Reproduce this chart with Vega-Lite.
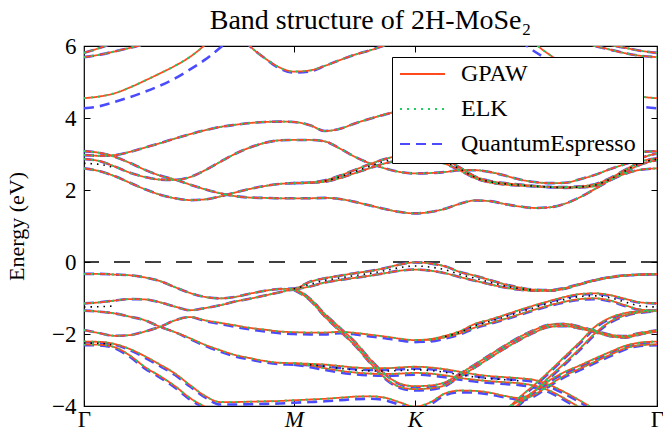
{
"$schema":"https://vega.github.io/schema/vega-lite/v6.json",
"width":573,"height":360,
"autosize":{"type":"none"},
"padding":{"left":84,"top":46,"right":6,"bottom":28},
"config":{"view":{"stroke":"black","strokeWidth":1.2},"font":"Liberation Serif"},
"title":{"text":"Band structure of 2H-MoSe₂","font":"Liberation Serif","fontSize":28,"fontWeight":"normal","color":"black","offset":0,"frame":"group","anchor":"middle"},
"data":{"values":[
{"b":"T1","k":0,"g":5.81,"e":5.81,"q":5.81},{"b":"T1","k":0.066,"g":5.95,"e":5.95,"q":5.95},{"b":"T1","k":0.128,"g":6.1,"e":6.1,"q":6.1},
{"b":"T2","k":0,"g":5.69,"e":5.69,"q":5.69},{"b":"T2","k":0.066,"g":5.76,"e":5.76,"q":5.76},{"b":"T2","k":0.128,"g":5.85,"e":5.85,"q":5.85},{"b":"T2","k":0.19,"g":5.95,"e":5.95,"q":5.95},{"b":"T2","k":0.252,"g":6.05,"e":6.05,"q":6.05},{"b":"T2","k":0.314,"g":6.18,"e":6.18,"q":6.18},
{"b":"T3","k":2.131,"g":6.1,"e":6.1,"q":6.1},{"b":"T3","k":2.172,"g":6.03,"e":6.03,"q":6.03},{"b":"T3","k":2.234,"g":5.95,"e":5.95,"q":5.95},{"b":"T3","k":2.296,"g":5.87,"e":5.87,"q":5.87},{"b":"T3","k":2.366,"g":5.81,"e":5.81,"q":5.81},
{"b":"T4","k":2.048,"g":6.1,"e":6.1,"q":6.1},{"b":"T4","k":2.11,"g":6.0,"e":6.0,"q":6.0},{"b":"T4","k":2.172,"g":5.9,"e":5.9,"q":5.9},{"b":"T4","k":2.234,"g":5.8,"e":5.8,"q":5.8},{"b":"T4","k":2.296,"g":5.73,"e":5.73,"q":5.73},{"b":"T4","k":2.366,"g":5.69,"e":5.69,"q":5.69},
{"b":"C45","k":0,"g":4.55,"e":4.55,"q":4.27},{"b":"C45","k":0.066,"g":4.6,"e":4.6,"q":4.33},{"b":"C45","k":0.128,"g":4.69,"e":4.69,"q":4.45},{"b":"C45","k":0.19,"g":4.85,"e":4.85,"q":4.58},{"b":"C45","k":0.252,"g":5.04,"e":5.04,"q":4.73},{"b":"C45","k":0.314,"g":5.24,"e":5.24,"q":4.9},{"b":"C45","k":0.376,"g":5.45,"e":5.45,"q":5.1},{"b":"C45","k":0.438,"g":5.7,"e":5.7,"q":5.35},{"b":"C45","k":0.5,"g":6.03,"e":6.03,"q":5.62},{"b":"C45","k":0.562,"g":6.4,"e":6.4,"q":5.95},{"b":"C45","k":0.623,"g":6.8,"e":6.8,"q":6.3},
{"b":"C45R","k":1.8,"g":6.6,"e":6.6,"q":6.15},{"b":"C45R","k":1.862,"g":6.08,"e":6.08,"q":5.84},{"b":"C45R","k":1.924,"g":5.75,"e":5.75,"q":5.58},{"b":"C45R","k":1.986,"g":5.5,"e":5.5,"q":5.3},{"b":"C45R","k":2.048,"g":5.27,"e":5.27,"q":5.05},{"b":"C45R","k":2.11,"g":5.06,"e":5.06,"q":4.82},{"b":"C45R","k":2.172,"g":4.86,"e":4.86,"q":4.6},{"b":"C45R","k":2.234,"g":4.7,"e":4.7,"q":4.45},{"b":"C45R","k":2.296,"g":4.6,"e":4.6,"q":4.33},{"b":"C45R","k":2.366,"g":4.55,"e":4.55,"q":4.27},
{"b":"CM","k":0.623,"g":6.5,"e":6.5,"q":6.5},{"b":"CM","k":0.685,"g":6.0,"e":6.0,"q":6.0},{"b":"CM","k":0.747,"g":5.66,"e":5.66,"q":5.66},{"b":"CM","k":0.809,"g":5.4,"e":5.4,"q":5.37},{"b":"CM","k":0.866,"g":5.29,"e":5.29,"q":5.26},{"b":"CM","k":0.933,"g":5.32,"e":5.32,"q":5.29},{"b":"CM","k":0.995,"g":5.45,"e":5.45,"q":5.45},{"b":"CM","k":1.057,"g":5.61,"e":5.61,"q":5.61},{"b":"CM","k":1.119,"g":5.76,"e":5.76,"q":5.76},{"b":"CM","k":1.181,"g":5.88,"e":5.88,"q":5.88},{"b":"CM","k":1.243,"g":6.02,"e":6.02,"q":6.02},{"b":"CM","k":1.305,"g":6.15,"e":6.15,"q":6.15},
{"b":"C39","k":0,"g":2.97,"e":2.97,"q":2.97},{"b":"C39","k":0.066,"g":2.95,"e":2.95,"q":2.95},{"b":"C39","k":0.128,"g":2.97,"e":2.97,"q":2.97},{"b":"C39","k":0.19,"g":3.06,"e":3.06,"q":3.06},{"b":"C39","k":0.252,"g":3.18,"e":3.18,"q":3.18},{"b":"C39","k":0.314,"g":3.3,"e":3.3,"q":3.3},{"b":"C39","k":0.376,"g":3.43,"e":3.43,"q":3.43},{"b":"C39","k":0.438,"g":3.55,"e":3.55,"q":3.55},{"b":"C39","k":0.5,"g":3.66,"e":3.66,"q":3.66},{"b":"C39","k":0.562,"g":3.75,"e":3.75,"q":3.75},{"b":"C39","k":0.623,"g":3.81,"e":3.81,"q":3.81},{"b":"C39","k":0.685,"g":3.86,"e":3.86,"q":3.86},{"b":"C39","k":0.747,"g":3.89,"e":3.89,"q":3.89},{"b":"C39","k":0.809,"g":3.9,"e":3.9,"q":3.9},{"b":"C39","k":0.866,"g":3.89,"e":3.89,"q":3.89},{"b":"C39","k":0.933,"g":3.8,"e":3.8,"q":3.8},{"b":"C39","k":0.995,"g":3.64,"e":3.64,"q":3.64},{"b":"C39","k":1.057,"g":3.7,"e":3.7,"q":3.7},{"b":"C39","k":1.119,"g":3.85,"e":3.85,"q":3.85},{"b":"C39","k":1.181,"g":3.98,"e":3.98,"q":3.98},{"b":"C39","k":1.243,"g":4.1,"e":4.1,"q":4.1},{"b":"C39","k":1.305,"g":4.2,"e":4.2,"q":4.2},{"b":"C39","k":1.366,"g":4.28,"e":4.28,"q":4.28},{"b":"C39","k":1.429,"g":4.3,"e":4.3,"q":4.3},{"b":"C39","k":1.491,"g":4.26,"e":4.26,"q":4.26},{"b":"C39","k":1.553,"g":4.15,"e":4.15,"q":4.15},{"b":"C39","k":1.614,"g":4.02,"e":4.02,"q":4.02},{"b":"C39","k":1.676,"g":3.88,"e":3.88,"q":3.88},{"b":"C39","k":1.738,"g":3.72,"e":3.72,"q":3.72},{"b":"C39","k":1.8,"g":3.57,"e":3.57,"q":3.57},{"b":"C39","k":1.862,"g":3.43,"e":3.43,"q":3.43},{"b":"C39","k":1.924,"g":3.3,"e":3.3,"q":3.3},{"b":"C39","k":1.986,"g":3.2,"e":3.2,"q":3.2},{"b":"C39","k":2.048,"g":3.13,"e":3.13,"q":3.13},{"b":"C39","k":2.11,"g":3.08,"e":3.08,"q":3.08},{"b":"C39","k":2.172,"g":3.05,"e":3.05,"q":3.05},{"b":"C39","k":2.234,"g":3.05,"e":3.05,"q":3.05},{"b":"C39","k":2.296,"g":3.06,"e":3.06,"q":3.06},{"b":"C39","k":2.366,"g":3.08,"e":3.08,"q":3.08},
{"b":"Cb1","k":0,"g":3.08,"e":3.08,"q":3.08},{"b":"Cb1","k":0.066,"g":3.03,"e":3.03,"q":3.03},{"b":"Cb1","k":0.128,"g":2.92,"e":2.92,"q":2.92},{"b":"Cb1","k":0.19,"g":2.75,"e":2.75,"q":2.75},{"b":"Cb1","k":0.252,"g":2.56,"e":2.56,"q":2.56},{"b":"Cb1","k":0.314,"g":2.4,"e":2.4,"q":2.4},{"b":"Cb1","k":0.376,"g":2.29,"e":2.29,"q":2.29},{"b":"Cb1","k":0.438,"g":2.15,"e":2.15,"q":2.15},{"b":"Cb1","k":0.5,"g":2.02,"e":2.02,"q":2.02},{"b":"Cb1","k":0.562,"g":1.91,"e":1.91,"q":1.91},{"b":"Cb1","k":0.623,"g":1.83,"e":1.83,"q":1.83},{"b":"Cb1","k":0.685,"g":1.79,"e":1.79,"q":1.79},{"b":"Cb1","k":0.747,"g":1.78,"e":1.78,"q":1.78},{"b":"Cb1","k":0.809,"g":1.77,"e":1.77,"q":1.77},{"b":"Cb1","k":0.866,"g":1.77,"e":1.77,"q":1.77},{"b":"Cb1","k":0.933,"g":1.77,"e":1.77,"q":1.77},{"b":"Cb1","k":0.995,"g":1.78,"e":1.78,"q":1.78},{"b":"Cb1","k":1.057,"g":1.75,"e":1.75,"q":1.75},{"b":"Cb1","k":1.119,"g":1.67,"e":1.67,"q":1.67},{"b":"Cb1","k":1.181,"g":1.57,"e":1.57,"q":1.57},{"b":"Cb1","k":1.243,"g":1.47,"e":1.47,"q":1.47},{"b":"Cb1","k":1.305,"g":1.39,"e":1.39,"q":1.39},{"b":"Cb1","k":1.366,"g":1.35,"e":1.35,"q":1.35},{"b":"Cb1","k":1.429,"g":1.39,"e":1.39,"q":1.39},{"b":"Cb1","k":1.491,"g":1.48,"e":1.48,"q":1.48},{"b":"Cb1","k":1.553,"g":1.62,"e":1.62,"q":1.62},{"b":"Cb1","k":1.614,"g":1.71,"e":1.71,"q":1.71},{"b":"Cb1","k":1.676,"g":1.69,"e":1.69,"q":1.69},{"b":"Cb1","k":1.738,"g":1.61,"e":1.61,"q":1.61},{"b":"Cb1","k":1.8,"g":1.54,"e":1.54,"q":1.54},{"b":"Cb1","k":1.862,"g":1.5,"e":1.5,"q":1.5},{"b":"Cb1","k":1.924,"g":1.52,"e":1.52,"q":1.52},{"b":"Cb1","k":1.986,"g":1.62,"e":1.62,"q":1.62},{"b":"Cb1","k":2.048,"g":1.8,"e":1.8,"q":1.8},{"b":"Cb1","k":2.11,"g":2.03,"e":2.03,"q":2.03},{"b":"Cb1","k":2.172,"g":2.27,"e":2.27,"q":2.27},{"b":"Cb1","k":2.234,"g":2.45,"e":2.45,"q":2.45},{"b":"Cb1","k":2.296,"g":2.56,"e":2.56,"q":2.56},{"b":"Cb1","k":2.366,"g":2.6,"e":2.6,"q":2.6},
{"b":"Cb3","k":0,"g":2.6,"e":2.6,"q":2.6},{"b":"Cb3","k":0.066,"g":2.52,"e":2.52,"q":2.52},{"b":"Cb3","k":0.128,"g":2.38,"e":2.38,"q":2.38},{"b":"Cb3","k":0.19,"g":2.2,"e":2.2,"q":2.2},{"b":"Cb3","k":0.252,"g":2.02,"e":2.02,"q":2.02},{"b":"Cb3","k":0.314,"g":1.87,"e":1.87,"q":1.87},{"b":"Cb3","k":0.376,"g":1.77,"e":1.77,"q":1.77},{"b":"Cb3","k":0.438,"g":1.72,"e":1.72,"q":1.72},{"b":"Cb3","k":0.5,"g":1.74,"e":1.74,"q":1.74},{"b":"Cb3","k":0.562,"g":1.82,"e":1.82,"q":1.82},{"b":"Cb3","k":0.623,"g":1.93,"e":1.93,"q":1.93},{"b":"Cb3","k":0.685,"g":2.03,"e":2.03,"q":2.03},{"b":"Cb3","k":0.747,"g":2.11,"e":2.11,"q":2.11},{"b":"Cb3","k":0.809,"g":2.17,"e":2.17,"q":2.17},{"b":"Cb3","k":0.866,"g":2.19,"e":2.19,"q":2.19},{"b":"Cb3","k":0.933,"g":2.21,"e":2.21,"q":2.21},{"b":"Cb3","k":0.995,"g":2.27,"e":2.27,"q":2.27},{"b":"Cb3","k":1.057,"g":2.4,"e":2.4,"q":2.4},{"b":"Cb3","k":1.119,"g":2.56,"e":2.56,"q":2.56},{"b":"Cb3","k":1.181,"g":2.72,"e":2.72,"q":2.72},{"b":"Cb3","k":1.243,"g":2.86,"e":2.86,"q":2.86},{"b":"Cb3","k":1.305,"g":2.96,"e":2.96,"q":2.96},{"b":"Cb3","k":1.366,"g":3.01,"e":3.01,"q":3.01},{"b":"Cb3","k":1.429,"g":2.97,"e":2.97,"q":2.97},{"b":"Cb3","k":1.491,"g":2.84,"e":2.84,"q":2.84},{"b":"Cb3","k":1.553,"g":2.62,"e":2.62,"q":2.62},{"b":"Cb3","k":1.614,"g":2.38,"e":2.38,"q":2.38},{"b":"Cb3","k":1.676,"g":2.25,"e":2.25,"q":2.25},{"b":"Cb3","k":1.738,"g":2.19,"e":2.19,"q":2.19},{"b":"Cb3","k":1.8,"g":2.15,"e":2.15,"q":2.15},{"b":"Cb3","k":1.862,"g":2.11,"e":2.11,"q":2.11},{"b":"Cb3","k":1.924,"g":2.08,"e":2.08,"q":2.08},{"b":"Cb3","k":1.986,"g":2.06,"e":2.06,"q":2.06},{"b":"Cb3","k":2.048,"g":2.07,"e":2.07,"q":2.07},{"b":"Cb3","k":2.11,"g":2.11,"e":2.11,"q":2.11},{"b":"Cb3","k":2.172,"g":2.27,"e":2.27,"q":2.27},{"b":"Cb3","k":2.234,"g":2.5,"e":2.5,"q":2.5},{"b":"Cb3","k":2.296,"g":2.7,"e":2.7,"q":2.7},{"b":"Cb3","k":2.366,"g":2.83,"e":2.83,"q":2.83},
{"b":"Cb3b","k":0.866,"g":2.19,"e":2.19,"q":2.19},{"b":"Cb3b","k":0.933,"g":2.2,"e":2.2,"q":2.2},{"b":"Cb3b","k":0.995,"g":2.23,"e":2.23,"q":2.23},{"b":"Cb3b","k":1.057,"g":2.33,"e":2.33,"q":2.33},{"b":"Cb3b","k":1.119,"g":2.47,"e":2.47,"q":2.47},{"b":"Cb3b","k":1.181,"g":2.61,"e":2.61,"q":2.61},{"b":"Cb3b","k":1.243,"g":2.74,"e":2.74,"q":2.74},{"b":"Cb3b","k":1.305,"g":2.83,"e":2.83,"q":2.83},{"b":"Cb3b","k":1.366,"g":2.87,"e":2.87,"q":2.87},{"b":"Cb3b","k":1.429,"g":2.84,"e":2.84,"q":2.84},{"b":"Cb3b","k":1.491,"g":2.73,"e":2.73,"q":2.73},{"b":"Cb3b","k":1.553,"g":2.54,"e":2.54,"q":2.54},{"b":"Cb3b","k":1.614,"g":2.33,"e":2.33,"q":2.33},{"b":"Cb3b","k":1.676,"g":2.21,"e":2.21,"q":2.21},{"b":"Cb3b","k":1.738,"g":2.15,"e":2.15,"q":2.15},{"b":"Cb3b","k":1.8,"g":2.12,"e":2.12,"q":2.12},{"b":"Cb3b","k":1.862,"g":2.1,"e":2.1,"q":2.1},{"b":"Cb3b","k":1.924,"g":2.08,"e":2.08,"q":2.08},{"b":"Cb3b","k":1.986,"g":2.08,"e":2.08,"q":2.08},{"b":"Cb3b","k":2.048,"g":2.1,"e":2.1,"q":2.1},{"b":"Cb3b","k":2.11,"g":2.16,"e":2.16,"q":2.16},{"b":"Cb3b","k":2.172,"g":2.33,"e":2.33,"q":2.33},{"b":"Cb3b","k":2.234,"g":2.56,"e":2.56,"q":2.56},{"b":"Cb3b","k":2.296,"g":2.78,"e":2.78,"q":2.78},{"b":"Cb3b","k":2.366,"g":2.88,"e":2.88,"q":2.88},
{"b":"Cb2","k":0,"g":2.86,"e":2.86,"q":2.86},{"b":"Cb2","k":0.066,"g":2.8,"e":2.8,"q":2.8},{"b":"Cb2","k":0.128,"g":2.65,"e":2.65,"q":2.65},{"b":"Cb2","k":0.19,"g":2.48,"e":2.48,"q":2.48},{"b":"Cb2","k":0.252,"g":2.36,"e":2.36,"q":2.36},{"b":"Cb2","k":0.314,"g":2.29,"e":2.29,"q":2.29},{"b":"Cb2","k":0.376,"g":2.28,"e":2.28,"q":2.28},{"b":"Cb2","k":0.438,"g":2.36,"e":2.36,"q":2.36},{"b":"Cb2","k":0.5,"g":2.55,"e":2.55,"q":2.55},{"b":"Cb2","k":0.562,"g":2.78,"e":2.78,"q":2.78},{"b":"Cb2","k":0.623,"g":3.0,"e":3.0,"q":3.0},{"b":"Cb2","k":0.685,"g":3.18,"e":3.18,"q":3.18},{"b":"Cb2","k":0.747,"g":3.31,"e":3.31,"q":3.31},{"b":"Cb2","k":0.809,"g":3.38,"e":3.38,"q":3.38},{"b":"Cb2","k":0.866,"g":3.39,"e":3.39,"q":3.39},{"b":"Cb2","k":0.933,"g":3.39,"e":3.39,"q":3.39},{"b":"Cb2","k":0.995,"g":3.35,"e":3.35,"q":3.35},{"b":"Cb2","k":1.057,"g":3.15,"e":3.15,"q":3.15},{"b":"Cb2","k":1.119,"g":2.92,"e":2.92,"q":2.92},{"b":"Cb2","k":1.181,"g":2.74,"e":2.74,"q":2.74},{"b":"Cb2","k":1.243,"g":2.6,"e":2.6,"q":2.6},{"b":"Cb2","k":1.305,"g":2.5,"e":2.5,"q":2.5},{"b":"Cb2","k":1.366,"g":2.46,"e":2.46,"q":2.46},{"b":"Cb2","k":1.429,"g":2.47,"e":2.47,"q":2.47},{"b":"Cb2","k":1.491,"g":2.5,"e":2.5,"q":2.5},{"b":"Cb2","k":1.553,"g":2.55,"e":2.55,"q":2.55},{"b":"Cb2","k":1.614,"g":2.55,"e":2.55,"q":2.55},{"b":"Cb2","k":1.676,"g":2.5,"e":2.5,"q":2.5},{"b":"Cb2","k":1.738,"g":2.4,"e":2.4,"q":2.4},{"b":"Cb2","k":1.8,"g":2.29,"e":2.29,"q":2.29},{"b":"Cb2","k":1.862,"g":2.22,"e":2.22,"q":2.22},{"b":"Cb2","k":1.924,"g":2.19,"e":2.19,"q":2.19},{"b":"Cb2","k":1.986,"g":2.2,"e":2.2,"q":2.2},{"b":"Cb2","k":2.048,"g":2.3,"e":2.3,"q":2.3},{"b":"Cb2","k":2.11,"g":2.42,"e":2.42,"q":2.42},{"b":"Cb2","k":2.172,"g":2.58,"e":2.58,"q":2.58},{"b":"Cb2","k":2.234,"g":2.72,"e":2.72,"q":2.72},{"b":"Cb2","k":2.296,"g":2.88,"e":2.88,"q":2.88},{"b":"Cb2","k":2.366,"g":3.02,"e":3.02,"q":3.02},
{"b":"V1","k":0,"g":-0.33,"e":-0.33,"q":-0.33},{"b":"V1","k":0.066,"g":-0.33,"e":-0.33,"q":-0.33},{"b":"V1","k":0.128,"g":-0.35,"e":-0.35,"q":-0.35},{"b":"V1","k":0.19,"g":-0.37,"e":-0.37,"q":-0.37},{"b":"V1","k":0.252,"g":-0.43,"e":-0.43,"q":-0.43},{"b":"V1","k":0.314,"g":-0.53,"e":-0.53,"q":-0.53},{"b":"V1","k":0.376,"g":-0.7,"e":-0.7,"q":-0.7},{"b":"V1","k":0.438,"g":-0.86,"e":-0.86,"q":-0.86},{"b":"V1","k":0.5,"g":-0.97,"e":-0.97,"q":-0.97},{"b":"V1","k":0.562,"g":-1.01,"e":-1.01,"q":-1.01},{"b":"V1","k":0.623,"g":-0.97,"e":-0.97,"q":-0.97},{"b":"V1","k":0.685,"g":-0.88,"e":-0.88,"q":-0.88},{"b":"V1","k":0.747,"g":-0.8,"e":-0.8,"q":-0.8},{"b":"V1","k":0.809,"g":-0.75,"e":-0.75,"q":-0.75},{"b":"V1","k":0.866,"g":-0.74,"e":-0.74,"q":-0.74},{"b":"V1","k":0.933,"g":-0.55,"e":-0.55,"q":-0.55},{"b":"V1","k":0.995,"g":-0.45,"e":-0.45,"q":-0.45},{"b":"V1","k":1.057,"g":-0.38,"e":-0.38,"q":-0.38},{"b":"V1","k":1.119,"g":-0.31,"e":-0.31,"q":-0.31},{"b":"V1","k":1.181,"g":-0.25,"e":-0.25,"q":-0.25},{"b":"V1","k":1.243,"g":-0.17,"e":-0.17,"q":-0.17},{"b":"V1","k":1.305,"g":-0.07,"e":-0.07,"q":-0.07},{"b":"V1","k":1.366,"g":-0.01,"e":-0.01,"q":-0.01},{"b":"V1","k":1.429,"g":-0.04,"e":-0.04,"q":-0.04},{"b":"V1","k":1.491,"g":-0.12,"e":-0.12,"q":-0.12},{"b":"V1","k":1.553,"g":-0.28,"e":-0.28,"q":-0.28},{"b":"V1","k":1.614,"g":-0.38,"e":-0.38,"q":-0.38},{"b":"V1","k":1.676,"g":-0.5,"e":-0.5,"q":-0.5},{"b":"V1","k":1.738,"g":-0.62,"e":-0.62,"q":-0.62},{"b":"V1","k":1.8,"g":-0.71,"e":-0.71,"q":-0.71},{"b":"V1","k":1.862,"g":-0.77,"e":-0.77,"q":-0.77},{"b":"V1","k":1.924,"g":-0.78,"e":-0.78,"q":-0.78},{"b":"V1","k":1.986,"g":-0.72,"e":-0.72,"q":-0.72},{"b":"V1","k":2.048,"g":-0.61,"e":-0.61,"q":-0.61},{"b":"V1","k":2.11,"g":-0.5,"e":-0.5,"q":-0.5},{"b":"V1","k":2.172,"g":-0.42,"e":-0.42,"q":-0.42},{"b":"V1","k":2.234,"g":-0.37,"e":-0.37,"q":-0.37},{"b":"V1","k":2.296,"g":-0.35,"e":-0.35,"q":-0.35},{"b":"V1","k":2.366,"g":-0.34,"e":-0.34,"q":-0.34},
{"b":"V1b","k":0.866,"g":-0.76,"e":-0.76,"q":-0.76},{"b":"V1b","k":0.933,"g":-0.68,"e":-0.68,"q":-0.68},{"b":"V1b","k":0.995,"g":-0.57,"e":-0.57,"q":-0.57},{"b":"V1b","k":1.057,"g":-0.5,"e":-0.5,"q":-0.5},{"b":"V1b","k":1.119,"g":-0.44,"e":-0.44,"q":-0.44},{"b":"V1b","k":1.181,"g":-0.38,"e":-0.38,"q":-0.38},{"b":"V1b","k":1.243,"g":-0.31,"e":-0.31,"q":-0.31},{"b":"V1b","k":1.305,"g":-0.24,"e":-0.24,"q":-0.24},{"b":"V1b","k":1.366,"g":-0.21,"e":-0.21,"q":-0.21},{"b":"V1b","k":1.429,"g":-0.24,"e":-0.24,"q":-0.24},{"b":"V1b","k":1.491,"g":-0.31,"e":-0.31,"q":-0.31},{"b":"V1b","k":1.553,"g":-0.42,"e":-0.42,"q":-0.42},{"b":"V1b","k":1.614,"g":-0.52,"e":-0.52,"q":-0.52},{"b":"V1b","k":1.676,"g":-0.62,"e":-0.62,"q":-0.62},{"b":"V1b","k":1.738,"g":-0.71,"e":-0.71,"q":-0.71},{"b":"V1b","k":1.8,"g":-0.77,"e":-0.77,"q":-0.77},{"b":"V1b","k":1.862,"g":-0.8,"e":-0.8,"q":-0.8},{"b":"V1b","k":1.924,"g":-0.8,"e":-0.8,"q":-0.8},{"b":"V1b","k":1.986,"g":-0.74,"e":-0.74,"q":-0.74},{"b":"V1b","k":2.048,"g":-0.62,"e":-0.62,"q":-0.62},{"b":"V1b","k":2.11,"g":-0.51,"e":-0.51,"q":-0.51},{"b":"V1b","k":2.172,"g":-0.43,"e":-0.43,"q":-0.43},{"b":"V1b","k":2.234,"g":-0.38,"e":-0.38,"q":-0.38},{"b":"V1b","k":2.296,"g":-0.35,"e":-0.35,"q":-0.35},{"b":"V1b","k":2.366,"g":-0.34,"e":-0.34,"q":-0.34},
{"b":"V2","k":0,"g":-1.15,"e":-1.15,"q":-1.15},{"b":"V2","k":0.066,"g":-1.12,"e":-1.12,"q":-1.12},{"b":"V2","k":0.128,"g":-1.07,"e":-1.07,"q":-1.07},{"b":"V2","k":0.19,"g":-1.03,"e":-1.03,"q":-1.03},{"b":"V2","k":0.252,"g":-1.04,"e":-1.04,"q":-1.04},{"b":"V2","k":0.314,"g":-1.12,"e":-1.12,"q":-1.12},{"b":"V2","k":0.376,"g":-1.24,"e":-1.24,"q":-1.24},{"b":"V2","k":0.438,"g":-1.34,"e":-1.34,"q":-1.34},{"b":"V2","k":0.5,"g":-1.28,"e":-1.28,"q":-1.28},{"b":"V2","k":0.562,"g":-1.2,"e":-1.2,"q":-1.2},{"b":"V2","k":0.623,"g":-1.1,"e":-1.1,"q":-1.1},{"b":"V2","k":0.685,"g":-1.02,"e":-1.02,"q":-1.02},{"b":"V2","k":0.747,"g":-0.93,"e":-0.93,"q":-0.93},{"b":"V2","k":0.809,"g":-0.84,"e":-0.84,"q":-0.84},{"b":"V2","k":0.866,"g":-0.77,"e":-0.77,"q":-0.77},{"b":"V2","k":0.933,"g":-1.02,"e":-1.02,"q":-1.02},{"b":"V2","k":0.995,"g":-1.45,"e":-1.45,"q":-1.45},{"b":"V2","k":1.057,"g":-1.83,"e":-1.83,"q":-1.83},{"b":"V2","k":1.119,"g":-2.22,"e":-2.22,"q":-2.22},{"b":"V2","k":1.181,"g":-2.7,"e":-2.7,"q":-2.7},{"b":"V2","k":1.243,"g":-3.12,"e":-3.12,"q":-3.12},{"b":"V2","k":1.305,"g":-3.38,"e":-3.38,"q":-3.4},{"b":"V2","k":1.366,"g":-3.45,"e":-3.45,"q":-3.48},{"b":"V2","k":1.429,"g":-3.43,"e":-3.43,"q":-3.46},{"b":"V2","k":1.491,"g":-3.34,"e":-3.34,"q":-3.36},{"b":"V2","k":1.553,"g":-3.1,"e":-3.1,"q":-3.1},{"b":"V2","k":1.614,"g":-2.85,"e":-2.85,"q":-2.85},{"b":"V2","k":1.676,"g":-2.58,"e":-2.58,"q":-2.58},{"b":"V2","k":1.738,"g":-2.32,"e":-2.32,"q":-2.32},{"b":"V2","k":1.8,"g":-2.08,"e":-2.08,"q":-2.08},{"b":"V2","k":1.862,"g":-1.88,"e":-1.88,"q":-1.88},{"b":"V2","k":1.924,"g":-1.74,"e":-1.74,"q":-1.74},{"b":"V2","k":1.986,"g":-1.72,"e":-1.72,"q":-1.72},{"b":"V2","k":2.048,"g":-1.8,"e":-1.8,"q":-1.8},{"b":"V2","k":2.11,"g":-1.91,"e":-1.91,"q":-1.91},{"b":"V2","k":2.172,"g":-2.02,"e":-2.02,"q":-2.02},{"b":"V2","k":2.234,"g":-2.06,"e":-2.06,"q":-2.06},{"b":"V2","k":2.296,"g":-1.97,"e":-1.97,"q":-1.97},{"b":"V2","k":2.366,"g":-1.9,"e":-1.9,"q":-1.9},
{"b":"V2b","k":0.866,"g":-0.77,"e":-0.77,"q":-0.77},{"b":"V2b","k":0.933,"g":-1.06,"e":-1.06,"q":-1.06},{"b":"V2b","k":0.995,"g":-1.52,"e":-1.52,"q":-1.52},{"b":"V2b","k":1.057,"g":-1.92,"e":-1.92,"q":-1.92},{"b":"V2b","k":1.119,"g":-2.32,"e":-2.32,"q":-2.32},{"b":"V2b","k":1.181,"g":-2.8,"e":-2.8,"q":-2.8},{"b":"V2b","k":1.243,"g":-3.22,"e":-3.22,"q":-3.24},{"b":"V2b","k":1.305,"g":-3.47,"e":-3.47,"q":-3.5},{"b":"V2b","k":1.366,"g":-3.53,"e":-3.53,"q":-3.57},{"b":"V2b","k":1.429,"g":-3.51,"e":-3.51,"q":-3.55},{"b":"V2b","k":1.491,"g":-3.42,"e":-3.42,"q":-3.45},{"b":"V2b","k":1.553,"g":-3.18,"e":-3.18,"q":-3.18},{"b":"V2b","k":1.614,"g":-2.93,"e":-2.93,"q":-2.93},{"b":"V2b","k":1.676,"g":-2.66,"e":-2.66,"q":-2.66},{"b":"V2b","k":1.738,"g":-2.4,"e":-2.4,"q":-2.4},{"b":"V2b","k":1.8,"g":-2.16,"e":-2.16,"q":-2.16},{"b":"V2b","k":1.862,"g":-1.95,"e":-1.95,"q":-1.95},{"b":"V2b","k":1.924,"g":-1.8,"e":-1.8,"q":-1.8},{"b":"V2b","k":1.986,"g":-1.78,"e":-1.78,"q":-1.78},{"b":"V2b","k":2.048,"g":-1.85,"e":-1.85,"q":-1.85},{"b":"V2b","k":2.11,"g":-1.95,"e":-1.95,"q":-1.95},{"b":"V2b","k":2.172,"g":-2.06,"e":-2.06,"q":-2.06},{"b":"V2b","k":2.234,"g":-2.1,"e":-2.1,"q":-2.1},{"b":"V2b","k":2.296,"g":-2.01,"e":-2.01,"q":-2.01},{"b":"V2b","k":2.366,"g":-1.93,"e":-1.93,"q":-1.93},
{"b":"V3","k":0,"g":-1.35,"e":-1.35,"q":-1.35},{"b":"V3","k":0.066,"g":-1.38,"e":-1.38,"q":-1.38},{"b":"V3","k":0.128,"g":-1.43,"e":-1.43,"q":-1.43},{"b":"V3","k":0.19,"g":-1.52,"e":-1.52,"q":-1.52},{"b":"V3","k":0.252,"g":-1.62,"e":-1.62,"q":-1.62},{"b":"V3","k":0.314,"g":-1.8,"e":-1.8,"q":-1.8},{"b":"V3","k":0.376,"g":-1.95,"e":-1.95,"q":-1.95},{"b":"V3","k":0.438,"g":-2.12,"e":-2.12,"q":-2.14},{"b":"V3","k":0.5,"g":-2.3,"e":-2.3,"q":-2.33},{"b":"V3","k":0.562,"g":-2.45,"e":-2.45,"q":-2.49},{"b":"V3","k":0.623,"g":-2.58,"e":-2.58,"q":-2.62},{"b":"V3","k":0.685,"g":-2.67,"e":-2.67,"q":-2.71},{"b":"V3","k":0.747,"g":-2.75,"e":-2.75,"q":-2.79},{"b":"V3","k":0.809,"g":-2.8,"e":-2.8,"q":-2.84},{"b":"V3","k":0.866,"g":-2.81,"e":-2.81,"q":-2.85},{"b":"V3","k":0.933,"g":-2.83,"e":-2.83,"q":-2.87},{"b":"V3","k":0.995,"g":-2.85,"e":-2.85,"q":-2.9},{"b":"V3","k":1.057,"g":-2.89,"e":-2.89,"q":-2.94},{"b":"V3","k":1.119,"g":-2.93,"e":-2.93,"q":-2.98},{"b":"V3","k":1.181,"g":-2.95,"e":-2.95,"q":-3.0},{"b":"V3","k":1.243,"g":-2.95,"e":-2.95,"q":-3.0},{"b":"V3","k":1.305,"g":-2.93,"e":-2.93,"q":-2.98},{"b":"V3","k":1.366,"g":-2.91,"e":-2.91,"q":-2.96},{"b":"V3","k":1.429,"g":-2.93,"e":-2.93,"q":-2.98},{"b":"V3","k":1.491,"g":-2.98,"e":-2.98,"q":-3.03},{"b":"V3","k":1.553,"g":-3.05,"e":-3.05,"q":-3.1},{"b":"V3","k":1.614,"g":-3.12,"e":-3.12,"q":-3.17},{"b":"V3","k":1.676,"g":-3.17,"e":-3.17,"q":-3.22},{"b":"V3","k":1.738,"g":-3.2,"e":-3.2,"q":-3.25},{"b":"V3","k":1.8,"g":-3.23,"e":-3.23,"q":-3.28},{"b":"V3","k":1.862,"g":-3.28,"e":-3.28,"q":-3.33},{"b":"V3","k":1.924,"g":-3.42,"e":-3.42,"q":-3.47},{"b":"V3","k":1.986,"g":-3.62,"e":-3.62,"q":-3.67},{"b":"V3","k":2.048,"g":-3.85,"e":-3.85,"q":-3.9},{"b":"V3","k":2.11,"g":-4.1,"e":-4.1,"q":-4.15},
{"b":"V3b","k":0.866,"g":-2.81,"e":-2.81,"q":-2.85},{"b":"V3b","k":0.933,"g":-2.87,"e":-2.87,"q":-2.92},{"b":"V3b","k":0.995,"g":-2.95,"e":-2.95,"q":-3.0},{"b":"V3b","k":1.057,"g":-3.02,"e":-3.02,"q":-3.07},{"b":"V3b","k":1.119,"g":-3.07,"e":-3.07,"q":-3.12},{"b":"V3b","k":1.181,"g":-3.1,"e":-3.1,"q":-3.15},{"b":"V3b","k":1.243,"g":-3.11,"e":-3.11,"q":-3.16},{"b":"V3b","k":1.305,"g":-3.1,"e":-3.1,"q":-3.15},{"b":"V3b","k":1.366,"g":-3.08,"e":-3.08,"q":-3.13},{"b":"V3b","k":1.429,"g":-3.1,"e":-3.1,"q":-3.15},{"b":"V3b","k":1.491,"g":-3.15,"e":-3.15,"q":-3.2},{"b":"V3b","k":1.553,"g":-3.22,"e":-3.22,"q":-3.27},{"b":"V3b","k":1.614,"g":-3.27,"e":-3.27,"q":-3.32},{"b":"V3b","k":1.676,"g":-3.31,"e":-3.31,"q":-3.36},{"b":"V3b","k":1.738,"g":-3.34,"e":-3.34,"q":-3.39},{"b":"V3b","k":1.8,"g":-3.37,"e":-3.37,"q":-3.42},{"b":"V3b","k":1.862,"g":-3.44,"e":-3.44,"q":-3.49},{"b":"V3b","k":1.924,"g":-3.58,"e":-3.58,"q":-3.63},{"b":"V3b","k":1.986,"g":-3.8,"e":-3.8,"q":-3.85},{"b":"V3b","k":2.048,"g":-4.05,"e":-4.05,"q":-4.1},
{"b":"V4","k":0,"g":-1.89,"e":-1.89,"q":-1.89},{"b":"V4","k":0.066,"g":-1.98,"e":-1.98,"q":-1.98},{"b":"V4","k":0.128,"g":-2.05,"e":-2.05,"q":-2.05},{"b":"V4","k":0.19,"g":-2.03,"e":-2.03,"q":-2.03},{"b":"V4","k":0.252,"g":-1.93,"e":-1.93,"q":-1.93},{"b":"V4","k":0.314,"g":-1.8,"e":-1.8,"q":-1.8},{"b":"V4","k":0.376,"g":-1.62,"e":-1.62,"q":-1.62},{"b":"V4","k":0.438,"g":-1.53,"e":-1.53,"q":-1.53},{"b":"V4","k":0.5,"g":-1.62,"e":-1.62,"q":-1.64},{"b":"V4","k":0.562,"g":-1.69,"e":-1.69,"q":-1.72},{"b":"V4","k":0.623,"g":-1.76,"e":-1.76,"q":-1.8},{"b":"V4","k":0.685,"g":-1.83,"e":-1.83,"q":-1.87},{"b":"V4","k":0.747,"g":-1.88,"e":-1.88,"q":-1.93},{"b":"V4","k":0.809,"g":-1.93,"e":-1.93,"q":-1.98},{"b":"V4","k":0.866,"g":-1.95,"e":-1.95,"q":-2.0},{"b":"V4","k":0.933,"g":-1.96,"e":-1.96,"q":-2.01},{"b":"V4","k":0.995,"g":-1.96,"e":-1.96,"q":-2.01},{"b":"V4","k":1.057,"g":-1.94,"e":-1.94,"q":-1.98},{"b":"V4","k":1.119,"g":-1.97,"e":-1.97,"q":-2.01},{"b":"V4","k":1.181,"g":-2.02,"e":-2.02,"q":-2.07},{"b":"V4","k":1.243,"g":-2.07,"e":-2.07,"q":-2.12},{"b":"V4","k":1.305,"g":-2.13,"e":-2.13,"q":-2.18},{"b":"V4","k":1.366,"g":-2.17,"e":-2.17,"q":-2.22},{"b":"V4","k":1.429,"g":-2.14,"e":-2.14,"q":-2.19},{"b":"V4","k":1.491,"g":-2.05,"e":-2.05,"q":-2.09},{"b":"V4","k":1.553,"g":-1.92,"e":-1.92,"q":-1.95},{"b":"V4","k":1.614,"g":-1.72,"e":-1.72,"q":-1.74},{"b":"V4","k":1.676,"g":-1.6,"e":-1.6,"q":-1.62},{"b":"V4","k":1.738,"g":-1.47,"e":-1.47,"q":-1.49},{"b":"V4","k":1.8,"g":-1.33,"e":-1.33,"q":-1.35},{"b":"V4","k":1.862,"g":-1.2,"e":-1.2,"q":-1.22},{"b":"V4","k":1.924,"g":-1.08,"e":-1.08,"q":-1.1},{"b":"V4","k":1.986,"g":-0.97,"e":-0.97,"q":-0.99},{"b":"V4","k":2.048,"g":-0.89,"e":-0.89,"q":-0.91},{"b":"V4","k":2.11,"g":-0.87,"e":-0.87,"q":-0.89},{"b":"V4","k":2.172,"g":-0.92,"e":-0.92,"q":-0.94},{"b":"V4","k":2.234,"g":-1.02,"e":-1.02,"q":-1.04},{"b":"V4","k":2.296,"g":-1.12,"e":-1.12,"q":-1.13},{"b":"V4","k":2.366,"g":-1.15,"e":-1.15,"q":-1.15},
{"b":"V4b","k":1.366,"g":-2.17,"e":-2.17,"q":-2.22},{"b":"V4b","k":1.429,"g":-2.16,"e":-2.16,"q":-2.21},{"b":"V4b","k":1.491,"g":-2.09,"e":-2.09,"q":-2.13},{"b":"V4b","k":1.553,"g":-1.98,"e":-1.98,"q":-2.01},{"b":"V4b","k":1.614,"g":-1.82,"e":-1.82,"q":-1.84},{"b":"V4b","k":1.676,"g":-1.7,"e":-1.7,"q":-1.72},{"b":"V4b","k":1.738,"g":-1.58,"e":-1.58,"q":-1.6},{"b":"V4b","k":1.8,"g":-1.45,"e":-1.45,"q":-1.47},{"b":"V4b","k":1.862,"g":-1.32,"e":-1.32,"q":-1.34},{"b":"V4b","k":1.924,"g":-1.2,"e":-1.2,"q":-1.22},{"b":"V4b","k":1.986,"g":-1.1,"e":-1.1,"q":-1.12},{"b":"V4b","k":2.048,"g":-1.03,"e":-1.03,"q":-1.05},{"b":"V4b","k":2.11,"g":-1.01,"e":-1.01,"q":-1.03},{"b":"V4b","k":2.172,"g":-1.07,"e":-1.07,"q":-1.09},{"b":"V4b","k":2.234,"g":-1.2,"e":-1.2,"q":-1.22},{"b":"V4b","k":2.296,"g":-1.32,"e":-1.32,"q":-1.33},{"b":"V4b","k":2.366,"g":-1.35,"e":-1.35,"q":-1.35},
{"b":"V5a","k":0,"g":-2.21,"e":-2.21,"q":-2.23},{"b":"V5a","k":0.066,"g":-2.22,"e":-2.22,"q":-2.24},{"b":"V5a","k":0.128,"g":-2.28,"e":-2.28,"q":-2.3},{"b":"V5a","k":0.19,"g":-2.42,"e":-2.42,"q":-2.45},{"b":"V5a","k":0.252,"g":-2.62,"e":-2.62,"q":-2.66},{"b":"V5a","k":0.314,"g":-2.85,"e":-2.85,"q":-2.89},{"b":"V5a","k":0.376,"g":-3.1,"e":-3.1,"q":-3.14},{"b":"V5a","k":0.438,"g":-3.42,"e":-3.42,"q":-3.46},{"b":"V5a","k":0.5,"g":-3.72,"e":-3.72,"q":-3.76},{"b":"V5a","k":0.562,"g":-3.89,"e":-3.89,"q":-3.96},{"b":"V5a","k":0.623,"g":-3.89,"e":-3.89,"q":-3.96},{"b":"V5a","k":0.685,"g":-3.88,"e":-3.88,"q":-3.95},{"b":"V5a","k":0.747,"g":-3.87,"e":-3.87,"q":-3.94},{"b":"V5a","k":0.809,"g":-3.86,"e":-3.86,"q":-3.93},{"b":"V5a","k":0.866,"g":-3.84,"e":-3.84,"q":-3.91},{"b":"V5a","k":0.933,"g":-3.82,"e":-3.82,"q":-3.89},{"b":"V5a","k":0.995,"g":-3.8,"e":-3.8,"q":-3.87},{"b":"V5a","k":1.057,"g":-3.77,"e":-3.77,"q":-3.84},{"b":"V5a","k":1.119,"g":-3.74,"e":-3.74,"q":-3.81},{"b":"V5a","k":1.181,"g":-3.73,"e":-3.73,"q":-3.8},{"b":"V5a","k":1.243,"g":-3.77,"e":-3.77,"q":-3.84},{"b":"V5a","k":1.305,"g":-3.9,"e":-3.9,"q":-3.97},{"b":"V5a","k":1.366,"g":-4.02,"e":-4.02,"q":-4.08},{"b":"V5a","k":1.429,"g":-3.9,"e":-3.9,"q":-3.96},{"b":"V5a","k":1.491,"g":-3.65,"e":-3.65,"q":-3.7},{"b":"V5a","k":1.553,"g":-3.57,"e":-3.57,"q":-3.62},{"b":"V5a","k":1.614,"g":-3.58,"e":-3.58,"q":-3.63},{"b":"V5a","k":1.676,"g":-3.63,"e":-3.63,"q":-3.68},{"b":"V5a","k":1.738,"g":-3.72,"e":-3.72,"q":-3.76},{"b":"V5a","k":1.8,"g":-3.78,"e":-3.78,"q":-3.82},{"b":"V5a","k":1.862,"g":-3.58,"e":-3.58,"q":-3.62},{"b":"V5a","k":1.924,"g":-3.28,"e":-3.28,"q":-3.32},{"b":"V5a","k":1.986,"g":-3.05,"e":-3.05,"q":-3.09},{"b":"V5a","k":2.048,"g":-2.87,"e":-2.87,"q":-2.91},{"b":"V5a","k":2.11,"g":-2.68,"e":-2.68,"q":-2.72},{"b":"V5a","k":2.172,"g":-2.5,"e":-2.5,"q":-2.54},{"b":"V5a","k":2.234,"g":-2.33,"e":-2.33,"q":-2.36},{"b":"V5a","k":2.296,"g":-2.24,"e":-2.24,"q":-2.26},{"b":"V5a","k":2.366,"g":-2.21,"e":-2.21,"q":-2.23},
{"b":"V5b","k":0,"g":-2.29,"e":-2.29,"q":-2.31},{"b":"V5b","k":0.066,"g":-2.3,"e":-2.3,"q":-2.32},{"b":"V5b","k":0.128,"g":-2.37,"e":-2.37,"q":-2.4},{"b":"V5b","k":0.19,"g":-2.6,"e":-2.6,"q":-2.64},{"b":"V5b","k":0.252,"g":-2.92,"e":-2.92,"q":-2.96},{"b":"V5b","k":0.314,"g":-3.17,"e":-3.17,"q":-3.21},{"b":"V5b","k":0.376,"g":-3.45,"e":-3.45,"q":-3.49},{"b":"V5b","k":0.438,"g":-3.78,"e":-3.78,"q":-3.82},{"b":"V5b","k":0.5,"g":-4.02,"e":-4.02,"q":-4.06},{"b":"V5b","k":0.562,"g":-4.2,"e":-4.2,"q":-4.24},
{"b":"VC2","k":1.738,"g":-4.1,"e":-4.1,"q":-4.14},{"b":"VC2","k":1.8,"g":-3.85,"e":-3.85,"q":-3.89},{"b":"VC2","k":1.862,"g":-3.68,"e":-3.68,"q":-3.72},{"b":"VC2","k":1.924,"g":-3.4,"e":-3.4,"q":-3.44},{"b":"VC2","k":1.986,"g":-3.15,"e":-3.15,"q":-3.19},{"b":"VC2","k":2.048,"g":-2.96,"e":-2.96,"q":-3.0},{"b":"VC2","k":2.11,"g":-2.77,"e":-2.77,"q":-2.81},{"b":"VC2","k":2.172,"g":-2.58,"e":-2.58,"q":-2.62},{"b":"VC2","k":2.234,"g":-2.4,"e":-2.4,"q":-2.43},{"b":"VC2","k":2.296,"g":-2.31,"e":-2.31,"q":-2.33},{"b":"VC2","k":2.366,"g":-2.29,"e":-2.29,"q":-2.31},
{"b":"VB","k":1.738,"g":-4.15,"e":-4.15,"q":-4.19},{"b":"VB","k":1.8,"g":-3.75,"e":-3.75,"q":-3.79},{"b":"VB","k":1.862,"g":-3.4,"e":-3.4,"q":-3.44},{"b":"VB","k":1.924,"g":-3.02,"e":-3.02,"q":-3.06},{"b":"VB","k":1.986,"g":-2.62,"e":-2.62,"q":-2.66},{"b":"VB","k":2.048,"g":-2.22,"e":-2.22,"q":-2.26},{"b":"VB","k":2.11,"g":-1.8,"e":-1.8,"q":-1.84},{"b":"VB","k":2.172,"g":-1.55,"e":-1.55,"q":-1.58},{"b":"VB","k":2.234,"g":-1.42,"e":-1.42,"q":-1.44},{"b":"VB","k":2.296,"g":-1.37,"e":-1.37,"q":-1.38},{"b":"VB","k":2.366,"g":-1.35,"e":-1.35,"q":-1.36},
{"b":"VBb","k":1.738,"g":-4.35,"e":-4.35,"q":-4.39},{"b":"VBb","k":1.8,"g":-3.92,"e":-3.92,"q":-3.96},{"b":"VBb","k":1.862,"g":-3.57,"e":-3.57,"q":-3.61},{"b":"VBb","k":1.924,"g":-3.18,"e":-3.18,"q":-3.22},{"b":"VBb","k":1.986,"g":-2.8,"e":-2.8,"q":-2.84},{"b":"VBb","k":2.048,"g":-2.4,"e":-2.4,"q":-2.44},{"b":"VBb","k":2.11,"g":-1.98,"e":-1.98,"q":-2.02},{"b":"VBb","k":2.172,"g":-1.66,"e":-1.66,"q":-1.69},{"b":"VBb","k":2.234,"g":-1.48,"e":-1.48,"q":-1.5},{"b":"VBb","k":2.296,"g":-1.4,"e":-1.4,"q":-1.41},{"b":"VBb","k":2.366,"g":-1.36,"e":-1.36,"q":-1.37}
]},
"transform":[{"fold":["g","e","q"],"as":["code","E"]}],
"resolve":{"axis":{"x":"independent","y":"independent"}},
"layer":[
{"data":{"values":[{"z":0}]},"mark":{"type":"rule","color":"black","strokeWidth":1.4,"strokeDash":[16,15]},"encoding":{"y":{"field":"z","type":"quantitative","axis":null}}},
{"transform":[{"filter":"datum.code=='q'"}],"mark":{"type":"line","clip":true,"interpolate":"monotone","strokeWidth":2.6},
 "encoding":{
  "x":{"field":"k","type":"quantitative","scale":{"domain":[0,2.366],"nice":false,"zero":false},
   "axis":{"orient":"bottom","values":[0,0.866,1.366,2.366],"labelExpr":"datum.value<0.5||datum.value>2?'Γ':(datum.value<1?'M':'K')","labelFontStyle":{"condition":{"test":"datum.value>0.5 && datum.value<2","value":"italic"},"value":"normal"},"grid":false,"domain":false,"tickSize":-6,"tickColor":"black","labelFont":"Liberation Serif","labelFontSize":23,"labelColor":"black","labelPadding":8,"title":null,"labelFlush":false}},
  "y":{"field":"E","type":"quantitative","scale":{"domain":[-4,6],"nice":false,"zero":false},
   "axis":{"orient":"left","values":[-4,-2,0,2,4,6],"grid":false,"domain":false,"tickSize":-6,"tickColor":"black","labelFont":"Liberation Serif","labelFontSize":23,"labelColor":"black","labelPadding":14,"title":"Energy (eV)","titleFont":"Liberation Serif","titleFontSize":22,"titleFontWeight":"normal","titleColor":"black","titlePadding":23,"labelFlush":false}},
  "color":{"field":"code","type":"nominal","scale":{"domain":["g","e","q"],"range":["#ff4a1f","#1fcc66","#4a4aff"]},
   "legend":{"orient":"none","legendX":308,"legendY":11,"title":null,"fillColor":"white","strokeColor":"black","padding":7,"cornerRadius":0,"symbolType":"stroke","symbolSize":2025,"symbolStrokeWidth":2,"clipHeight":20,"labelFont":"Liberation Serif","labelFontSize":24,"labelColor":"black","labelLimit":400,"rowPadding":11,"labelOffset":15,"labelExpr":"datum.label=='g'?'GPAW':(datum.label=='e'?'ELK':'QuantumEspresso')"}},
  "strokeDash":{"field":"code","type":"nominal","scale":{"domain":["g","e","q"],"range":[[1,0],[2,5],[10,6]]}},
  "detail":{"field":"b"}}},
{"transform":[{"filter":"datum.code=='g'"}],"mark":{"type":"line","clip":true,"interpolate":"monotone","strokeWidth":1.8},
 "encoding":{"x":{"field":"k","type":"quantitative","axis":null},"y":{"field":"E","type":"quantitative","axis":null},
  "color":{"field":"code","type":"nominal"},"strokeDash":{"field":"code","type":"nominal"},"detail":{"field":"b"}}},
{"transform":[{"filter":"datum.code=='e'"}],"mark":{"type":"line","clip":true,"interpolate":"monotone","strokeWidth":2},
 "encoding":{"x":{"field":"k","type":"quantitative","axis":null},"y":{"field":"E","type":"quantitative","axis":null},
  "color":{"field":"code","type":"nominal"},"strokeDash":{"field":"code","type":"nominal"},"detail":{"field":"b"}}},
{"data":{"values":[
{"n":"N1","k":0.866,"E":-0.75},{"n":"N1","k":0.933,"E":-0.62},{"n":"N1","k":0.995,"E":-0.51},{"n":"N1","k":1.057,"E":-0.44},{"n":"N1","k":1.119,"E":-0.375},{"n":"N1","k":1.181,"E":-0.315},{"n":"N1","k":1.243,"E":-0.24},{"n":"N1","k":1.305,"E":-0.155},{"n":"N1","k":1.366,"E":-0.11},{"n":"N1","k":1.429,"E":-0.14},{"n":"N1","k":1.491,"E":-0.215},{"n":"N1","k":1.553,"E":-0.35},{"n":"N1","k":1.614,"E":-0.45},{"n":"N1","k":1.676,"E":-0.56},{"n":"N1","k":1.738,"E":-0.665},{"n":"N1","k":1.8,"E":-0.74},{"n":"N1","k":1.862,"E":-0.785},
{"n":"N2","k":0.995,"E":2.25},{"n":"N2","k":1.057,"E":2.365},{"n":"N2","k":1.119,"E":2.515},{"n":"N2","k":1.181,"E":2.665},{"n":"N2","k":1.243,"E":2.8},{"n":"N2","k":1.305,"E":2.895},{"n":"N2","k":1.366,"E":2.94},{"n":"N2","k":1.429,"E":2.905},{"n":"N2","k":1.491,"E":2.785},{"n":"N2","k":1.553,"E":2.58},{"n":"N2","k":1.614,"E":2.355},{"n":"N2","k":1.676,"E":2.23},{"n":"N2","k":1.738,"E":2.17},{"n":"N2","k":1.8,"E":2.135},{"n":"N2","k":1.862,"E":2.105},{"n":"N2","k":1.924,"E":2.08},{"n":"N2","k":1.986,"E":2.07},{"n":"N2","k":2.048,"E":2.085},{"n":"N2","k":2.11,"E":2.135},{"n":"N2","k":2.172,"E":2.3},{"n":"N2","k":2.234,"E":2.53},{"n":"N2","k":2.296,"E":2.74},{"n":"N2","k":2.366,"E":2.855},
{"n":"N3","k":1.491,"E":-2.07},{"n":"N3","k":1.553,"E":-1.95},{"n":"N3","k":1.614,"E":-1.77},{"n":"N3","k":1.676,"E":-1.65},{"n":"N3","k":1.738,"E":-1.525},{"n":"N3","k":1.8,"E":-1.39},{"n":"N3","k":1.862,"E":-1.26},{"n":"N3","k":1.924,"E":-1.14},{"n":"N3","k":1.986,"E":-1.035},{"n":"N3","k":2.048,"E":-0.96},{"n":"N3","k":2.11,"E":-0.94},{"n":"N3","k":2.172,"E":-0.995},{"n":"N3","k":2.234,"E":-1.11},{"n":"N3","k":2.296,"E":-1.22},{"n":"N3","k":2.366,"E":-1.25},
{"n":"N4","k":0.933,"E":-2.85},{"n":"N4","k":0.995,"E":-2.9},{"n":"N4","k":1.057,"E":-2.955},{"n":"N4","k":1.119,"E":-3.0},{"n":"N4","k":1.181,"E":-3.025},{"n":"N4","k":1.243,"E":-3.03},{"n":"N4","k":1.305,"E":-3.015},{"n":"N4","k":1.366,"E":-2.995},{"n":"N4","k":1.429,"E":-3.015},{"n":"N4","k":1.491,"E":-3.065},{"n":"N4","k":1.553,"E":-3.135},{"n":"N4","k":1.614,"E":-3.195},{"n":"N4","k":1.676,"E":-3.24},{"n":"N4","k":1.738,"E":-3.27},{"n":"N4","k":1.8,"E":-3.3},
{"n":"N5","k":0,"E":-1.25},{"n":"N5","k":0.066,"E":-1.24},{"n":"N5","k":0.128,"E":-1.22},
{"n":"N6","k":0,"E":2.74},{"n":"N6","k":0.066,"E":2.71},{"n":"N6","k":0.128,"E":2.62},
{"n":"N7","k":0,"E":-2.25},{"n":"N7","k":0.066,"E":-2.26},{"n":"N7","k":0.128,"E":-2.32}
]},"mark":{"type":"line","clip":true,"interpolate":"monotone","color":"black","strokeWidth":1.6,"strokeDash":[1.5,5]},
 "encoding":{"x":{"field":"k","type":"quantitative","axis":null},"y":{"field":"E","type":"quantitative","axis":null},"detail":{"field":"n"}}},
{"data":{"values":[{"k":0,"E":0}]},"mark":{"type":"point","opacity":0},
 "encoding":{"x":{"field":"k","type":"quantitative","axis":{"orient":"top","values":[0.866,1.366],"labels":false,"grid":false,"domain":false,"tickSize":-6,"tickColor":"black","title":null}},
  "y":{"field":"E","type":"quantitative","axis":{"orient":"right","values":[-4,-2,0,2,4,6],"labels":false,"grid":false,"domain":false,"tickSize":-6,"tickColor":"black","title":null}}}}
]
}
